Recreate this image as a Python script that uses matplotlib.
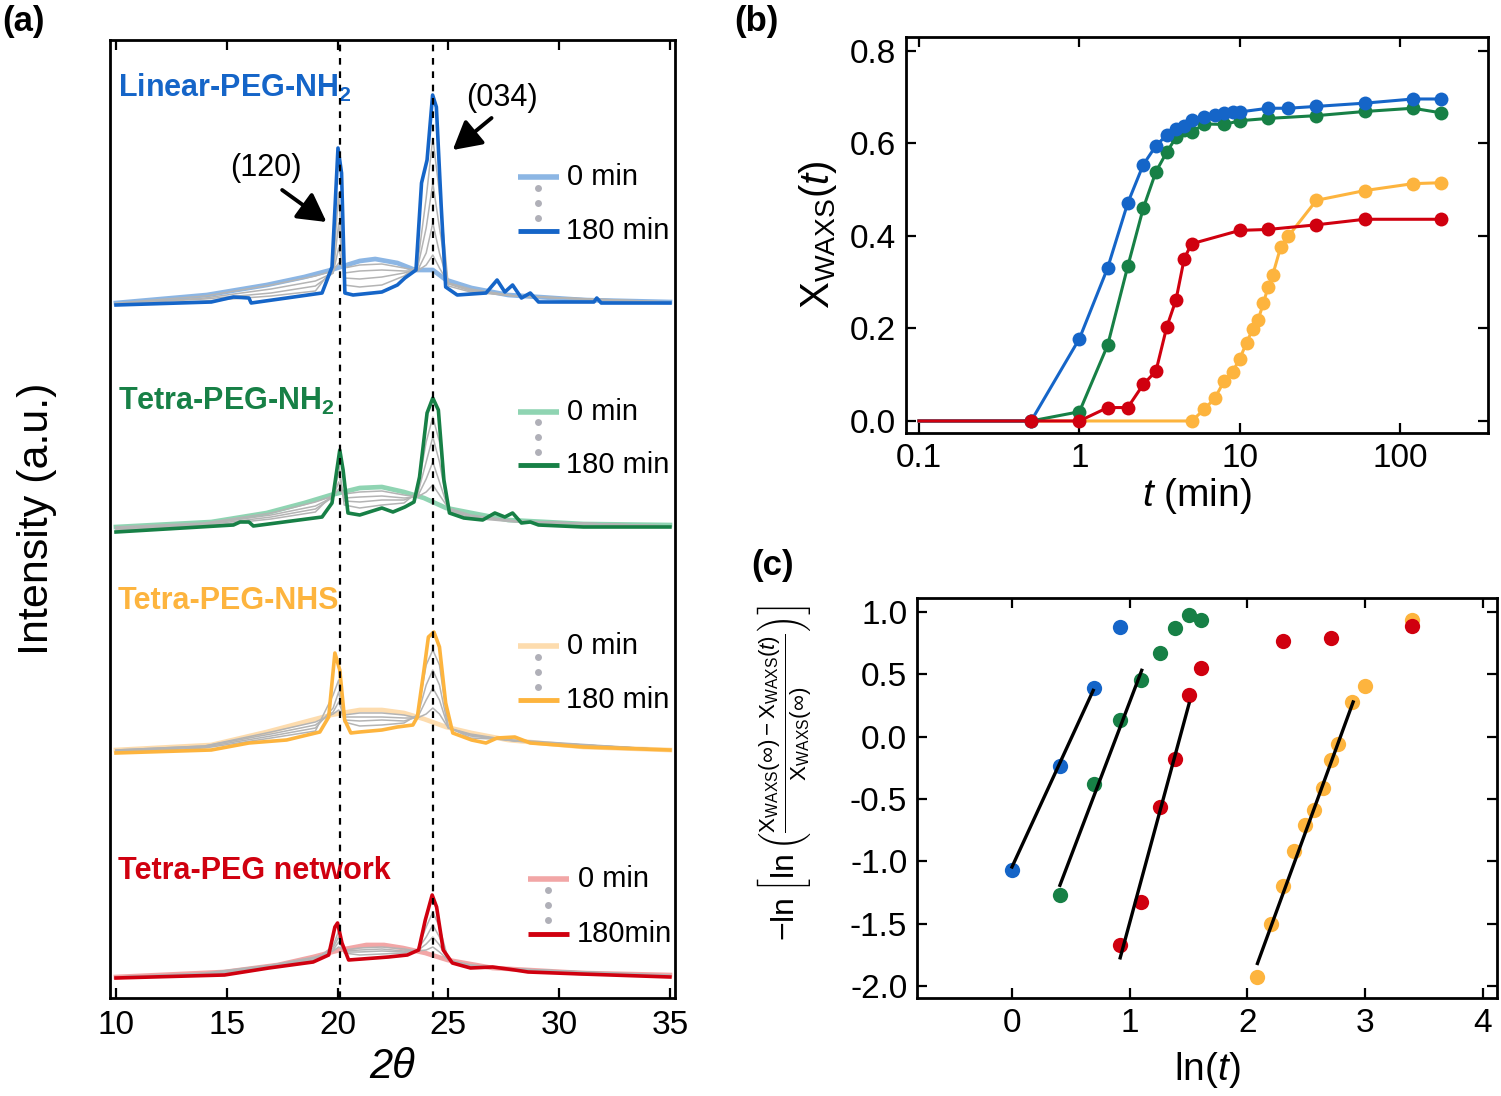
import matplotlib
matplotlib.use('Agg')
import matplotlib.pyplot as plt

plt.rcParams['font.family'] = ['Liberation Sans', 'DejaVu Sans']
plt.rcParams['mathtext.fontset'] = 'custom'
plt.rcParams['mathtext.rm'] = 'Liberation Sans'
plt.rcParams['mathtext.it'] = 'Liberation Sans:italic'
plt.rcParams['mathtext.bf'] = 'Liberation Sans:bold'
plt.rcParams['axes.unicode_minus'] = False

# ---------------- (a) WAXS profiles: 2theta vs intensity (a.u., above each baseline)
LIN_X180 = [10, 14.3, 15.3, 16.0, 16.1, 19.3, 19.75, 20.02, 20.18, 20.33, 20.7, 22.0, 22.7, 23.04, 23.54, 23.79,
            24.04, 24.29, 24.46, 24.68, 24.88, 25.4, 26.7, 27.2, 27.55, 27.9, 28.3, 28.7, 29.07, 31.57, 31.7, 31.9, 35]
LIN_H180 = [-2, 1, 6, 5, 0, 10, 36, 155, 130, 10, 8, 11, 18, 25, 33, 120,
            143, 208, 196, 96, 16, 8, 10, 23, 11, 18, 5, 10, 1, 1, 5, 0, 0]
LIN_X0 = [10, 14.1, 16.8, 18.5, 19.7, 21.0, 21.7, 22.7, 23.5, 24.3, 24.9, 26.05, 27.7, 31.1, 35]
LIN_H0 = [0, 8, 18, 26, 33, 42, 44, 40, 33, 33, 23, 15, 8, 3, 1]

NH2_X180 = [10, 15.3, 15.6, 16.0, 16.2, 19.3, 19.75, 20.1, 20.25, 20.47, 21.0, 22.0, 22.5, 23.04, 23.45, 23.7,
            24.04, 24.3, 24.55, 24.8, 25.05, 25.7, 26.55, 27.1, 27.55, 27.9, 28.3, 28.7, 29.07, 31.1, 35]
NH2_H180 = [-5, 2, 5, 5, 1, 10, 24, 77, 57, 14, 12, 19, 15, 20, 25, 50,
            114, 129, 117, 47, 14, 9, 7, 14, 10, 14, 4, 5, 2, 0, 0]
NH2_X0 = [10, 14.3, 16.8, 18.5, 19.7, 21.0, 22.0, 23.0, 23.9, 24.9, 26.05, 27.7, 31.1, 35]
NH2_H0 = [0, 5, 14, 24, 32, 39, 40, 35, 29, 19, 14, 7, 3, 2]

NHS_X180 = [10, 14.3, 16.0, 17.7, 19.2, 19.6, 19.88, 20.1, 20.32, 20.6, 21.0, 22.0, 22.7, 23.4,
            23.6, 23.9, 24.1, 24.35, 24.6, 24.88, 25.2, 26.05, 26.7, 27.2, 28.0, 28.7, 31.1, 35]
NHS_H180 = [-3, 0, 7, 10, 18, 33, 97, 80, 30, 17, 18, 20, 23, 25,
            33, 80, 113, 118, 103, 47, 17, 10, 7, 12, 13, 7, 3, 0]
NHS_X0 = [10, 14.3, 16.8, 18.5, 19.7, 21.0, 22.0, 23.0, 23.9, 24.9, 26.05, 27.7, 31.1, 35]
NHS_H0 = [0, 5, 18, 28, 35, 40, 40, 37, 31, 23, 17, 10, 3, 0]

NET_X180 = [10, 14.9, 16.9, 18.9, 19.6, 19.88, 20.0, 20.2, 20.5, 21.7, 22.3, 23.15,
            23.66, 23.96, 24.27, 24.47, 24.77, 25.18, 26.0, 27.0, 28.0, 28.6, 31.0, 35]
NET_H180 = [-1, 2, 9, 15, 22, 50, 54, 34, 17, 19, 20, 22,
            27, 57, 82, 70, 27, 14, 9, 10, 7, 5, 3, 0]
NET_X0 = [10, 14.9, 17.3, 18.9, 20.1, 21.3, 22.1, 22.95, 23.96, 24.97, 27.0, 31.0, 35]
NET_H0 = [0, 5, 12, 20, 27, 32, 32, 29, 24, 17, 9, 4, 2]

# intermediate scans (grey), shared 2theta points
GREY_X = [10, 14, 17, 19, 19.8, 20.05, 20.3, 21, 22, 23, 23.6, 24.0, 24.3, 24.6, 25.0, 26, 28, 35]
LIN_GREY = [[0, 7, 18, 27, 32, 40, 35, 38, 39, 35, 32, 38, 48, 35, 20, 14, 7, 1],
            [-1, 5, 14, 22, 30, 55, 30, 32, 33, 32, 32, 50, 80, 50, 20, 13, 7, 1],
            [-1, 4, 10, 17, 30, 80, 25, 24, 26, 30, 34, 75, 120, 75, 19, 12, 7, 0],
            [-2, 2, 7, 12, 35, 110, 18, 16, 18, 27, 37, 105, 165, 110, 17, 11, 7, 0]]
NH2_GREY = [[0, 4, 14, 25, 31, 38, 33, 35, 36, 32, 30, 35, 42, 32, 19, 12, 6, 1],
            [-1, 3, 12, 21, 30, 45, 29, 30, 31, 29, 30, 48, 65, 45, 18, 11, 6, 1],
            [-2, 2, 10, 18, 30, 55, 26, 25, 27, 27, 32, 65, 90, 65, 17, 10, 6, 1],
            [-3, 1, 8, 15, 33, 65, 22, 19, 22, 24, 35, 85, 110, 85, 16, 9, 5, 0]]
NHS_GREY = [[0, 4, 18, 28, 36, 40, 35, 37, 37, 35, 32, 36, 42, 36, 22, 16, 9, 0],
            [0, 4, 16, 25, 38, 48, 33, 33, 33, 32, 32, 50, 62, 50, 22, 15, 9, 0],
            [-1, 3, 14, 22, 42, 58, 30, 29, 30, 29, 33, 65, 80, 65, 22, 14, 9, 0],
            [-2, 2, 12, 19, 55, 70, 28, 24, 25, 27, 35, 85, 100, 85, 23, 12, 10, 0]]
NET_GREY = [[0, 4, 12, 20, 26, 30, 27, 29, 30, 28, 26, 27, 30, 25, 17, 12, 8, 2],
            [0, 3, 11, 19, 27, 35, 26, 27, 28, 26, 26, 33, 40, 32, 17, 12, 8, 1],
            [0, 3, 11, 18, 29, 40, 25, 25, 26, 25, 27, 40, 52, 40, 17, 11, 8, 1],
            [-1, 2, 10, 17, 31, 46, 24, 22, 23, 24, 27, 50, 65, 50, 17, 11, 8, 1]]

SAMPLES = ['Linear-PEG-NH$_\\mathbf{2}$', 'Tetra-PEG-NH$_\\mathbf{2}$', 'Tetra-PEG-NHS', 'Tetra-PEG network']
OFFSETS = [695, 471, 248, 21]
PEAKS = [20.1, 24.3]
DARK = ['#1565c8', '#178046', '#fdb43e', '#d0000f']
LIGHT = ['#8cb6e4', '#8fd4b2', '#fddcae', '#f2a6a6']

# ---------------- (b) crystallinity vs time
T_BLUE = [0.1, 0.5, 1, 1.5, 2, 2.5, 3, 3.5, 4, 4.5, 5, 6, 7, 8, 9, 10, 15, 20, 30, 60, 120, 180]
X_BLUE = [0, 0, 0.178, 0.331, 0.471, 0.554, 0.595, 0.618, 0.631, 0.638, 0.651, 0.656, 0.661, 0.665,
          0.667, 0.668, 0.676, 0.676, 0.680, 0.687, 0.696, 0.696]
T_GREEN = [0.1, 0.5, 1, 1.5, 2, 2.5, 3, 3.5, 4, 4.5, 5, 6, 8, 10, 15, 30, 60, 120, 180]
X_GREEN = [0, 0, 0.020, 0.164, 0.334, 0.460, 0.539, 0.581, 0.613, 0.628, 0.624, 0.642, 0.641, 0.649,
           0.654, 0.660, 0.669, 0.676, 0.666]
T_RED = [0.1, 0.5, 1, 1.5, 2, 2.5, 3, 3.5, 4, 4.5, 5, 10, 15, 30, 60, 180]
X_RED = [0, 0, 0, 0.029, 0.029, 0.079, 0.108, 0.203, 0.262, 0.351, 0.383, 0.412, 0.414, 0.424, 0.436, 0.436]
T_YEL = [0.1, 5, 6, 7, 8, 9, 10, 11, 12, 13, 14, 15, 16, 18, 20, 30, 60, 120, 180]
X_YEL = [0, 0, 0.025, 0.050, 0.087, 0.106, 0.135, 0.169, 0.198, 0.219, 0.254, 0.290, 0.315, 0.377,
         0.399, 0.477, 0.498, 0.513, 0.515]

# ---------------- (c) Avrami plot
LNT_BLUE = [0, 0.405, 0.693, 0.916]
Y_BLUE = [-1.071, -0.238, 0.393, 0.879]
LNT_GREEN = [0.405, 0.693, 0.916, 1.099, 1.253, 1.386, 1.504, 1.609]
Y_GREEN = [-1.272, -0.382, 0.131, 0.457, 0.673, 0.871, 0.972, 0.932]
LNT_RED = [0.916, 1.099, 1.253, 1.386, 1.504, 1.609, 2.303, 2.708, 3.401]
Y_RED = [-1.667, -1.325, -0.564, -0.182, 0.337, 0.550, 0.767, 0.793, 0.887]
LNT_YEL = [2.079, 2.197, 2.303, 2.398, 2.485, 2.565, 2.639, 2.708, 2.773, 2.890, 2.996, 3.401]
Y_YEL = [-1.926, -1.499, -1.200, -0.919, -0.711, -0.590, -0.409, -0.190, -0.056, 0.278, 0.403, 0.938]
FIT_X = [[0, 0.69], [0.407, 1.102], [0.919, 1.504], [2.085, 2.898]]
FIT_Y = [[-1.045, 0.371], [-1.192, 0.532], [-1.774, 0.264], [-1.819, 0.278]]

W, H = 1501, 1096
fig = plt.figure(figsize=(W / 100, H / 100), dpi=100)


def box(l, t, r, b):
    return [l / W, 1 - b / H, (r - l) / W, (b - t) / H]


def style(ax):
    for s in ax.spines.values():
        s.set_linewidth(2.0)
    ax.tick_params(direction='in', length=7, width=1.6, labelsize=24, pad=7,
                   top=True, right=True)


# ---------------- panel (a)
ax = fig.add_axes(box(110, 40, 675, 998))
style(ax)
ax.tick_params(left=False, right=False, labelleft=False, pad=9)
curves = [(LIN_X0, LIN_H0, LIN_GREY, LIN_X180, LIN_H180),
          (NH2_X0, NH2_H0, NH2_GREY, NH2_X180, NH2_H180),
          (NHS_X0, NHS_H0, NHS_GREY, NHS_X180, NHS_H180),
          (NET_X0, NET_H0, NET_GREY, NET_X180, NET_H180)]
for i, (x0, h0, grey, x180, h180) in enumerate(curves):
    off = OFFSETS[i]
    ax.plot(x0, [off + v for v in h0], color=LIGHT[i], lw=3.4, zorder=2)
    for g in grey:
        ax.plot(GREY_X, [off + v for v in g], color='#b4b4b4', lw=1.1, zorder=3)
    ax.plot(x180, [off + v for v in h180], color=DARK[i], lw=2.6, zorder=4)

for p in PEAKS:
    ax.axvline(p, color='k', ls=(0, (3, 3)), lw=1.6, zorder=5)

label_y = [910, 597, 397, 127]
for i, name in enumerate(SAMPLES):
    ax.text(10.09, label_y[i], name, color=DARK[i], fontsize=22, fontweight='bold',
            va='center', ha='left')

# legends drawn in each block
leg = [(28.14, 30.0, 821, 767, 29.05, 30.35, '180 min'),
       (28.14, 30.0, 586, 533, 29.05, 30.35, '180 min'),
       (28.14, 30.0, 352, 298, 29.05, 30.35, '180 min'),
       (28.59, 30.44, 119, 64, 29.52, 30.85, '180min')]
for i, (xa, xb, yl, yd, xdot, xt, lab) in enumerate(leg):
    ax.plot([xa, xb], [yl, yl], color=LIGHT[i], lw=4, solid_capstyle='butt')
    ax.plot([xa, xb], [yd, yd], color=DARK[i], lw=3.5, solid_capstyle='butt')
    step = (yl - yd) / 3.6
    ax.plot([xdot] * 3, [yl - step * 0.7, yl - step * 1.7, yl - step * 2.7], 'o',
            color='#b0b0b8', ms=5, mec='none')
    ax.text(xt, yl, '0 min', fontsize=21, va='center', ha='left')
    ax.text(xt - 0.05, yd, lab, fontsize=21, va='center', ha='left')

arrow = dict(arrowstyle='-|>,head_length=0.9,head_width=0.5', color='k', lw=2.8,
             mutation_scale=19, shrinkA=0, shrinkB=0)
ax.annotate('', xy=(19.5, 776), xytext=(17.5, 808), arrowprops=arrow)
ax.text(16.75, 830, '(120)', fontsize=22, ha='center', va='center')
ax.annotate('', xy=(25.2, 848), xytext=(26.95, 880), arrowprops=arrow)
ax.text(27.42, 900, '(034)', fontsize=22, ha='center', va='center')

ax.set_xlim(9.73, 35.23)
ax.set_ylim(0, 958)
ax.set_xticks([10, 15, 20, 25, 30, 35])
ax.set_yticks([])
ax.set_xlabel('2θ', fontsize=30, style='italic', labelpad=4)
ax.set_ylabel('Intensity (a.u.)', fontsize=31, labelpad=38)

# ---------------- panel (b)
bx = fig.add_axes(box(906, 37, 1488, 433))
style(bx)
series_b = [(T_YEL, X_YEL, DARK[2]), (T_GREEN, X_GREEN, DARK[1]),
            (T_BLUE, X_BLUE, DARK[0]), (T_RED, X_RED, DARK[3])]
for t, xv, c in series_b:
    bx.plot(t, xv, '-o', color=c, lw=2.2, ms=10, mec='none', markevery=slice(1, None))
bx.set_xscale('log')
bx.set_xlim(0.083, 352)
bx.set_ylim(-0.026, 0.83)
bx.set_xticks([0.1, 1, 10, 100])
bx.set_xticklabels(['0.1', '1', '10', '100'])
bx.minorticks_off()
bx.set_yticks([0, 0.2, 0.4, 0.6, 0.8])
bx.set_yticklabels(['0.0', '0.2', '0.4', '0.6', '0.8'])
bx.set_xlabel('$t$ (min)', fontsize=28, labelpad=2)
bx.set_ylabel('$\\mathrm{X}_{\\mathrm{WAXS}}(t)$', fontsize=29, labelpad=8)

# ---------------- panel (c)
cx = fig.add_axes(box(917, 598, 1497, 998))
style(cx)
for xs, ys, c in [(LNT_BLUE, Y_BLUE, DARK[0]), (LNT_GREEN, Y_GREEN, DARK[1]),
                  (LNT_YEL, Y_YEL, DARK[2]), (LNT_RED, Y_RED, DARK[3])]:
    cx.plot(xs, ys, 'o', color=c, ms=11, mec='none', zorder=2)
for fx, fy in zip(FIT_X, FIT_Y):
    cx.plot(fx, fy, color='k', lw=2.4, zorder=3)
cx.set_xlim(-0.807, 4.12)
cx.set_ylim(-2.096, 1.112)
cx.set_xticks([0, 1, 2, 3, 4])
cx.set_yticks([-2, -1.5, -1, -0.5, 0, 0.5, 1])
cx.set_yticklabels(['-2.0', '-1.5', '-1.0', '-0.5', '0.0', '0.5', '1.0'])
cx.set_xlabel('ln($t$)', fontsize=28, labelpad=8)
cx.set_ylabel('$-\\ln\\left[\\ln\\left(\\frac{\\mathrm{X}_{\\mathrm{WAXS}}(\\infty)-\\mathrm{X}_{\\mathrm{WAXS}}(t)}'
              '{\\mathrm{X}_{\\mathrm{WAXS}}(\\infty)}\\right)\\right]$', fontsize=23)
cx.yaxis.set_label_coords(-0.178, 0.5625)

# panel letters
for s, (px, py) in zip(['(a)', '(b)', '(c)'], [(2, 22), (734, 22), (751, 565)]):
    fig.text(px / W, 1 - py / H, s, fontsize=25, fontweight='bold', va='center', ha='left')

fig.savefig('out.png', dpi=100)
